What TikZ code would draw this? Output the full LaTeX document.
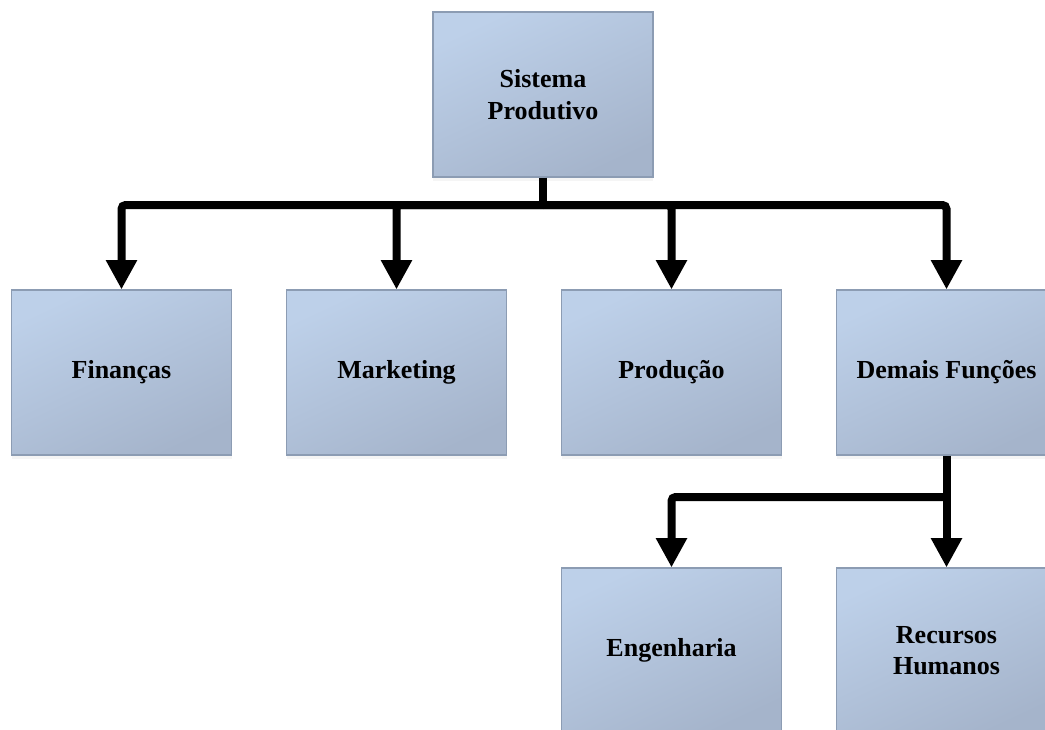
\documentclass[tikz,border=0pt]{standalone}
\usepackage{fontspec}
\setmainfont{Liberation Serif}
\usepackage{tikz}
\usetikzlibrary{arrows.meta, shadows}
\definecolor{boxtop}{HTML}{BDD0E9}
\definecolor{boxmid}{HTML}{AEBED6}
\definecolor{boxbot}{HTML}{A5B4CB}
\definecolor{boxline}{HTML}{8C9CB3}
\tikzstyle{block} = [rectangle, draw=boxline, line width=0.8pt,
                 top color=boxtop, middle color=boxmid, bottom color=boxbot,
                 shading angle=25, minimum width=165pt, minimum height=123.75pt,
                 align=center, font=\fontsize{19.5}{23.5}\selectfont\bfseries,
                 drop shadow={shadow xshift=0pt, shadow yshift=-3pt, opacity=0.08}]
\tikzset{
	link/.style={line width=6pt, rounded corners=3pt,
		-{Triangle[width=22pt, length=22pt]}},
	bar/.style={line width=6pt, rounded corners=3pt},
}
\begin{document}
\begin{tikzpicture}[x=0.75pt, y=-0.75pt]
\useasboundingbox (0,0) rectangle (1045,729);

\node [block] at (543,94.5) (sis) {Sistema\\Produtivo};

\foreach \x/\name/\label in {121.5/fin/Finanças, 396.5/mkt/Marketing,
	671.5/prod/Produção, 946.5/dem/Demais Funções}
	\node [block] at (\x,372.5) (\name) {\label};

\foreach \x/\name/\label in {671.5/eng/Engenharia, 946.5/rh/Recursos\\Humanos}
	\node [block] at (\x,650.5) (\name) {\label};

%connectors
\coordinate (bus) at (543,205);
\coordinate (bus2) at (946.5,497);
\draw [bar] (sis.south) -- (bus);
\foreach \name in {fin, mkt, prod, dem}
	\draw [link] (bus) -| (\name.north);
\draw [bar] (dem.south) -- (bus2);
\foreach \name in {eng, rh}
	\draw [link] (bus2) -| (\name.north);

\end{tikzpicture}
\end{document}
